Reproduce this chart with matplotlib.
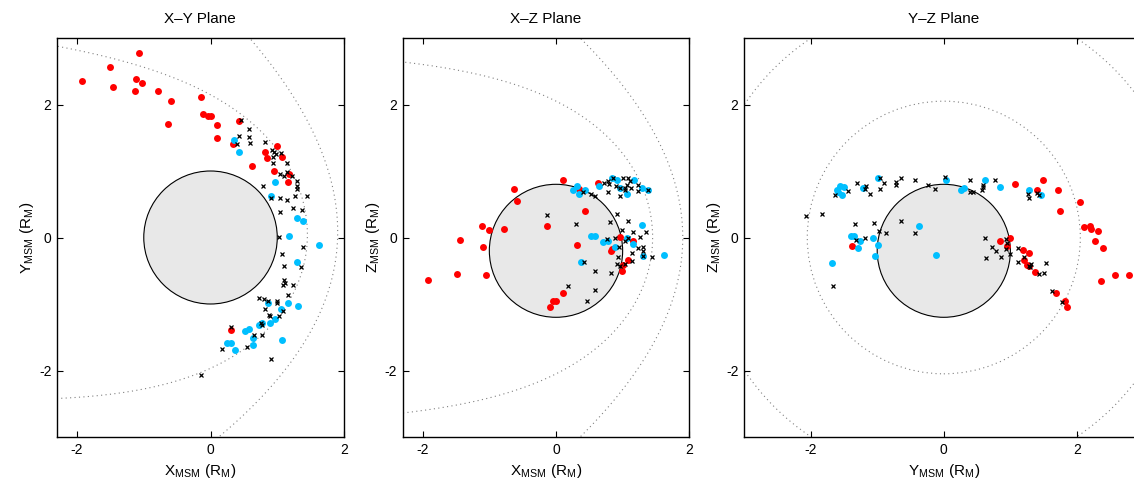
#!/usr/bin/env python
"""Spacecraft event locations projected on the three MSM planes."""

import numpy as np
import matplotlib.pyplot as plt
from matplotlib.patches import Circle

plt.rcParams["font.family"] = ["Liberation Sans", "DejaVu Sans"]
plt.rcParams["mathtext.fontset"] = "custom"
plt.rcParams["mathtext.rm"] = "Liberation Sans"
plt.rcParams["axes.unicode_minus"] = False

#+++ Data (R_M)
# X-Y plane
xy_red_x = [-1.93, -1.50, -1.07, -1.46, -1.12, -1.03, -1.13, -0.78, -0.59, -0.63, -0.14, -0.11, -0.04, 0.00,
            0.10, 0.09, 0.43, 0.33, 0.62, 0.82, 0.84, 1.00, 1.07, 0.95, 1.17, 1.16, 0.31]
xy_red_y = [2.36, 2.57, 2.78, 2.27, 2.39, 2.32, 2.20, 2.21, 2.05, 1.71, 2.11, 1.85, 1.83, 1.83,
            1.69, 1.50, 1.75, 1.41, 1.08, 1.28, 1.20, 1.37, 1.21, 1.00, 0.95, 0.84, -1.39]
xy_blue_x = [0.35, 0.43, 0.96, 0.91, 1.30, 1.38, 1.18, 1.62, 1.30, 1.31, 1.16, 1.06, 0.96, 0.89, 0.86,
             0.77, 0.72, 0.64, 0.63, 0.58, 0.51, 1.07, 0.25, 0.30, 0.37]
xy_blue_y = [1.47, 1.28, 0.84, 0.63, 0.29, 0.25, 0.03, -0.11, -0.37, -1.03, -0.99, -1.07, -1.22, -1.29, -0.98,
             -1.28, -1.32, -1.51, -1.61, -1.37, -1.41, -1.54, -1.58, -1.58, -1.69]
xy_x_x = [0.45, 0.58, 0.42, 0.57, 0.59, 0.40, 0.82, 0.92, 0.95, 0.98, 1.05, 0.93, 0.93, 1.14, 1.04, 1.10,
          1.14, 1.22, 1.30, 1.30, 1.30, 0.79, 1.26, 1.44, 0.91, 1.04, 1.14, 1.04, 1.24, 1.37, 1.02, 1.38,
          1.07, 1.36, 1.10, 1.10, 1.11, 1.09, 1.23, 1.16, 0.72, 0.80, 0.86, 0.81, 0.99, 1.00, 1.08, 0.88,
          0.89, 1.03, 0.75, 0.77, 0.65, 0.77, 0.30, 0.17, 0.54, 0.91, -0.14]
xy_x_y = [1.77, 1.63, 1.53, 1.51, 1.42, 1.40, 1.43, 1.31, 1.28, 1.26, 1.27, 1.21, 1.12, 1.12, 0.95, 0.93,
          0.99, 0.93, 0.85, 0.78, 0.73, 0.77, 0.62, 0.63, 0.59, 0.59, 0.57, 0.39, 0.44, 0.41, 0.01, -0.14,
          -0.25, -0.44, -0.43, -0.64, -0.68, -0.71, -0.72, -0.87, -0.91, -0.92, -0.95, -1.07, -0.96, -0.98,
          -1.11, -1.16, -1.18, -1.18, -1.29, -1.31, -1.46, -1.46, -1.34, -1.67, -1.65, -1.83, -2.07]

# X-Z plane
xz_red_x = [-1.92, -1.49, -1.05, -1.44, -1.10, -1.11, -1.01, -0.78, -0.625, -0.58, -0.135, 0.10, 0.43,
            0.315, 0.10, 0.00, -0.05, -0.095, 0.345, 0.625, 0.96, 1.16, 0.82, 0.835, 1.075, 0.995, 1.01]
xz_red_z = [-0.64, -0.55, -0.56, -0.04, -0.15, 0.175, 0.11, 0.135, 0.725, 0.55, 0.17, 0.87, 0.405,
            -0.12, -0.83, -0.95, -0.95, -1.04, 0.735, 0.815, 0.01, -0.05, -0.21, -0.175, -0.34, -0.51, -0.41]
xz_blue_x = [0.26, 0.31, 0.35, 0.43, 0.645, 0.845, 0.91, 0.96, 1.06, 1.17, 1.295, 1.385, 0.52, 0.59, 0.71,
             0.78, 0.89, 1.06, 1.16, 1.295, 1.31, 1.62, 0.37]
xz_blue_z = [0.71, 0.775, 0.65, 0.715, 0.77, 0.90, 0.865, 0.75, 0.66, 0.865, 0.75, 0.72, 0.03, 0.03, -0.07,
             -0.05, -0.15, -0.01, -0.10, 0.185, -0.285, -0.26, -0.375]
xz_x_x = [-0.14, 0.305, 0.185, 0.58, 0.59, 0.46, 0.42, 0.825, 0.40, 0.52, 0.59, 0.775, 0.72, 0.78, 0.80,
          0.86, 0.90, 0.96, 0.96, 1.01, 1.085, 1.11, 1.06, 1.04, 1.12, 1.035, 1.225, 1.235, 1.375, 0.91,
          0.81, 1.085, 0.99, 1.15, 1.35, 1.26, 0.885, 1.04, 1.085, 0.94, 1.225, 1.31, 1.31, 1.135, 0.935,
          1.44, 1.145, 0.92, 0.96, 1.035, 1.31, 0.77]
xz_x_z = [0.335, 0.21, -0.725, -0.51, -0.79, -0.96, -0.375, -0.53, 0.68, 0.65, 0.625, 0.69, 0.82, 0.85, 0.81,
          0.90, 0.775, 0.625, 0.74, 0.90, 0.90, 0.85, 0.79, 0.75, 0.75, 0.71, 0.79, 0.70, 0.72, 0.35,
          0.23, 0.25, 0.11, 0.08, 0.085, 0.01, 0.00, -0.05, 0.00, -0.15, -0.16, -0.14, -0.20, -0.24, -0.29,
          -0.30, -0.36, -0.40, -0.425, -0.40, -0.285, -0.03]

# Y-Z plane
yz_red_y = [1.075, 1.495, 1.405, 1.71, 2.04, 1.745, 2.105, 2.19, 2.21, 2.315, 2.27, 2.39, 2.36, 2.575, 2.78,
            1.00, 0.845, 0.945, 1.195, 1.28, 1.21, 1.25, 1.275, 1.37, 1.69, 1.825, 1.845, -1.38]
yz_red_z = [0.80, 0.86, 0.72, 0.72, 0.54, 0.395, 0.165, 0.17, 0.13, 0.10, -0.05, -0.155, -0.65, -0.565, -0.57,
            0.00, -0.06, -0.125, -0.185, -0.24, -0.34, -0.415, -0.43, -0.515, -0.84, -0.96, -1.05, -0.13]
yz_blue_y = [-1.68, -1.605, -1.565, -1.50, -1.585, -1.535, -1.215, -0.985, 0.035, 0.255, 0.30, 0.625, 0.84,
             1.275, 1.46, -1.40, -1.355, -1.265, -1.285, -1.065, -0.99, -1.03, -0.365, -0.11]
yz_blue_z = [-0.385, 0.71, 0.77, 0.76, 0.68, 0.64, 0.74, 0.895, 0.86, 0.71, 0.74, 0.86, 0.755,
             0.715, 0.64, 0.025, 0.02, -0.06, -0.155, -0.015, -0.115, -0.285, 0.18, -0.27]
yz_x_y = [-2.065, -1.83, -1.665, -1.635, -1.44, -1.30, -1.19, -1.165, -1.105, -0.955, -0.955, -0.905, -0.715,
          -0.725, -0.64, -0.425, -0.235, -0.13, 0.015, 0.39, 0.40, 0.435, 0.57, 0.585, 0.595, 0.775, 1.265,
          1.275, 1.405, 1.435, -1.335, -1.05, -0.65, -0.975, -0.865, -0.435, -1.315, -1.18, 0.625, 0.72,
          0.785, 0.635, 0.86, 0.93, 0.945, 0.935, 1.00, 1.115, 1.115, 1.20, 1.285, 1.31, 1.295, 1.435,
          1.50, 1.535, 1.625, 1.77]
yz_x_z = [0.325, 0.35, -0.73, 0.64, 0.70, 0.815, 0.725, 0.77, 0.66, 0.90, 0.735, 0.82, 0.83,
          0.785, 0.90, 0.87, 0.79, 0.725, 0.91, 0.87, 0.69, 0.69, 0.71, 0.76, 0.79, 0.86, 0.65,
          0.60, 0.67, 0.64, 0.20, 0.225, 0.245, 0.10, 0.075, 0.075, -0.035, -0.01, 0.00, -0.15,
          -0.20, -0.315, -0.30, -0.025, -0.085, -0.175, -0.25, -0.16, -0.375, -0.30, -0.425, -0.40, -0.45, -0.55,
          -0.53, -0.39, -0.805, -0.975]

# Model boundaries / geometry
DIPOLE_OFFSET = 0.2          # planet centre sits 0.2 R_M below MSM origin
MP_RSS, MP_ALPHA = 1.45, 0.5  # magnetopause
BS_X0, BS_P, BS_E = 0.5, 2.75, 1.04  # bow shock conic
ABERRATION_DEG = 5.0
YZ_BS_RADIUS = 3.6
YZ_MP_RADIUS = 2.05
ticks = [-2, 0, 2]
#---

RED, BLUE = "#ff0000", "#00bfff"


def magnetopause():
    th = np.radians(np.linspace(-170, 170, 600))
    r = MP_RSS * (2 / (1 + np.cos(th))) ** MP_ALPHA
    return r * np.cos(th), r * np.sin(th)


def bow_shock():
    th = np.radians(np.linspace(-150, 150, 600))
    r = BS_P * BS_E / (1 + BS_E * np.cos(th))
    return BS_X0 + r * np.cos(th), r * np.sin(th)


def rotate(x, y, deg):
    a = np.radians(deg)
    return x * np.cos(a) + y * np.sin(a), -x * np.sin(a) + y * np.cos(a)


def style(ax, xlim, ylim, xlabel, ylabel):
    ax.set_xlim(*xlim)
    ax.set_ylim(*ylim)
    ax.set_xticks(ticks)
    ax.set_yticks(ticks)
    ax.tick_params(direction="in", top=True, right=True, length=4, width=0.8, labelsize=10, pad=4)
    for s in ax.spines.values():
        s.set_linewidth(1.0)
    ax.set_xlabel(xlabel, fontsize=11, labelpad=4)
    ax.set_ylabel(ylabel, fontsize=11, labelpad=2)


def points(ax, rx, ry, bx, by, kx, ky):
    ax.plot(rx, ry, "o", color=RED, ms=5, mec="none", zorder=3)
    ax.plot(bx, by, "o", color=BLUE, ms=5, mec="none", zorder=3)
    ax.plot(kx, ky, "x", color="k", ms=3.5, mew=0.9, zorder=4)


dot = dict(color="0.5", ls=(0, (1, 3)), lw=0.8, zorder=1)

fig = plt.figure(figsize=(11.34, 4.83), dpi=100)
ax1 = fig.add_axes([57 / 1134, 46 / 483, 287 / 1134, 399 / 483])
ax2 = fig.add_axes([402.7 / 1134, 46 / 483, 286.6 / 1134, 399 / 483])
ax3 = fig.add_axes([744 / 1134, 46 / 483, 399.6 / 1134, 399 / 483])

# X-Y plane (aberrated boundaries)
ax1.plot(*rotate(*magnetopause(), ABERRATION_DEG), **dot)
ax1.plot(*rotate(*bow_shock(), ABERRATION_DEG), **dot)
ax1.add_patch(Circle((0, 0), 1, fc="#e8e8e8", ec="k", lw=0.8, zorder=2))
points(ax1, xy_red_x, xy_red_y, xy_blue_x, xy_blue_y, xy_x_x, xy_x_y)
style(ax1, (-2.3, 2), (-3, 3), r"$\mathregular{X_{MSM}\ (R_M)}$", r"$\mathregular{Y_{MSM}\ (R_M)}$")

# X-Z plane
ax2.plot(*magnetopause(), **dot)
ax2.plot(*bow_shock(), **dot)
ax2.add_patch(Circle((0, -DIPOLE_OFFSET), 1, fc="#e8e8e8", ec="k", lw=0.8, zorder=2))
points(ax2, xz_red_x, xz_red_z, xz_blue_x, xz_blue_z, xz_x_x, xz_x_z)
style(ax2, (-2.3, 2), (-3, 3), r"$\mathregular{X_{MSM}\ (R_M)}$", r"$\mathregular{Z_{MSM}\ (R_M)}$")

# Y-Z plane
ax3.add_patch(Circle((0, 0), YZ_BS_RADIUS, fill=False, **dot))
ax3.add_patch(Circle((0, 0), YZ_MP_RADIUS, fill=False, **dot))
ax3.add_patch(Circle((0, -DIPOLE_OFFSET), 1, fc="#e8e8e8", ec="k", lw=0.8, zorder=2))
points(ax3, yz_red_y, yz_red_z, yz_blue_y, yz_blue_z, yz_x_y, yz_x_z)
style(ax3, (-3, 3), (-3, 3), r"$\mathregular{Y_{MSM}\ (R_M)}$", r"$\mathregular{Z_{MSM}\ (R_M)}$")

# panel titles, centred over each box
for xc, title in [(200, "X\u2013Y Plane"), (546, "X\u2013Z Plane"), (944, "Y\u2013Z Plane")]:
    fig.text(xc / 1134, 1 - 19 / 483, title, fontsize=11, ha="center", va="center")

fig.savefig("out.png", dpi=100)
